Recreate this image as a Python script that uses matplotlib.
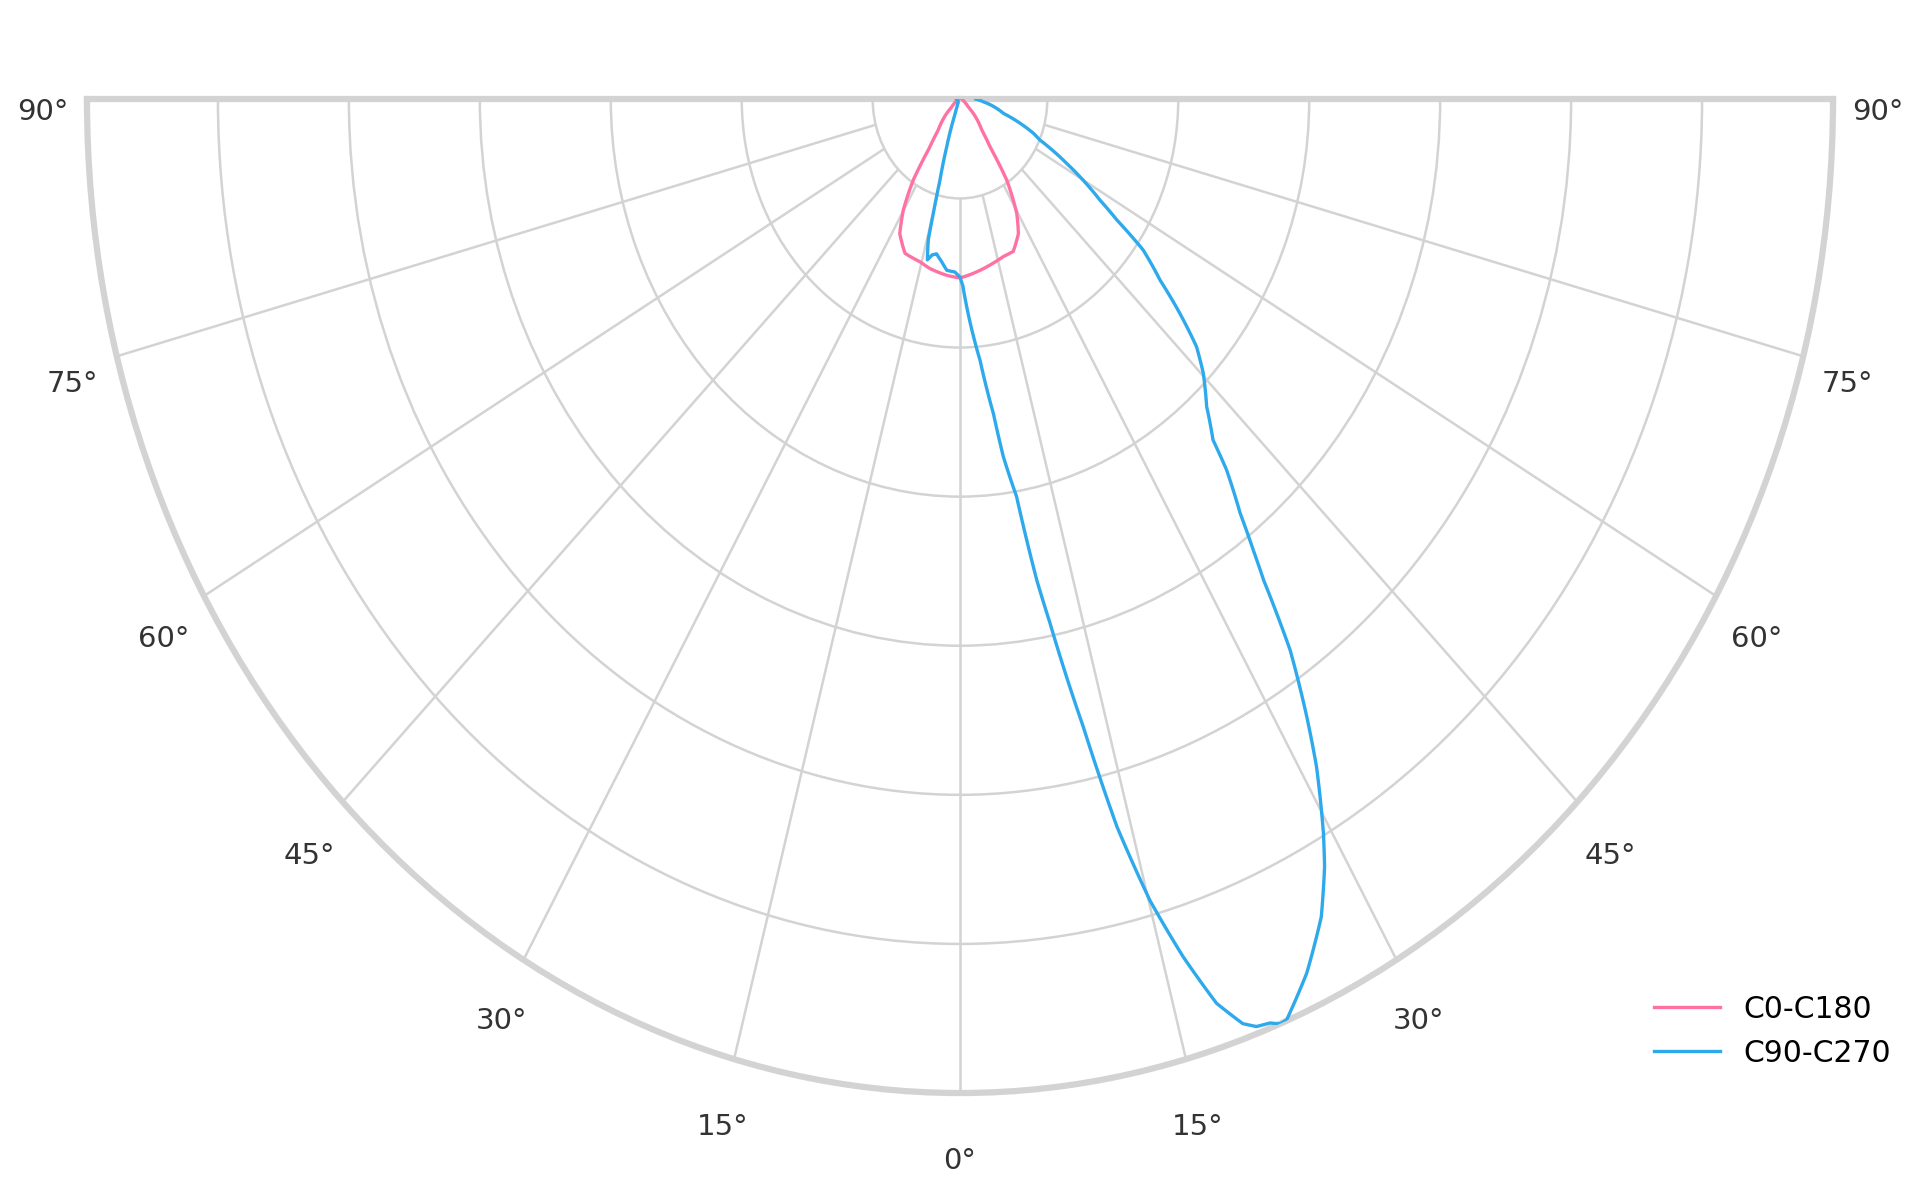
import numpy as np
import matplotlib
matplotlib.use("Agg")
import matplotlib.pyplot as plt

# C0-C180 curve: angle (deg, negative = left side) and relative intensity
c0_ang = [-90, -75, -60, -50, -46.6, -38.6, -35.6, -33.3, -30.2, -27.0, -22.1, -15.6,
          -11.4, -4.9, 0, 5.0, 11.6, 17.4, 21.7, 26.3, 29.5, 33.3, 35.6, 38.6, 46.6,
          50, 60, 75, 90]
c0_val = [0.2, 0.3, 0.6, 1.2, 2.1, 4.0, 5.9, 9.75, 12.9, 15.2, 16.75, 17.0,
          17.4, 17.8, 18.0, 17.6, 17.05, 16.6, 16.5, 15.1, 13.2, 9.75, 5.9, 4.0, 2.1,
          1.2, 0.6, 0.3, 0.2]

# C90-C270 curve
c90_ang = [-90, -75, -60, -45, -30, -24, -21, -19.9, -17.6, -15.7, -14.9, -14.4, -13.0,
           -11.5, -9.8, -7.3, -5.0, -2.0, 0, 1.0, 2.1, 5.0, 6.9, 7.85, 9.2, 10.3, 11.06,
           12.6, 13.8, 15.1, 16.5, 17.9, 19.2, 20.0, 20.9, 21.5, 22.0, 24.3, 26.7, 28.4,
           29.4, 31.3, 32.6, 34.3, 35.7, 36.5, 37.6, 39.3, 40.2, 42.4, 45.3, 47.4, 49.4,
           51.5, 54.1, 55.9, 57.6, 62.1, 65.8, 67.7, 73.8, 77.4, 84, 90]
c90_val = [0.4, 0.3, 0.3, 0.3, 0.4, 0.8, 1.5, 2.3, 5.0, 8.5, 11.9, 14.6, 16.6,
           16.0, 15.8, 16.5, 17.3, 17.4, 17.9, 18.8, 20.9, 26.4, 31.9, 36.3, 40.5, 49.2, 53.7,
           64.7, 75.4, 83.5, 90.0, 95.6, 98.5, 99.3, 99.5, 100.0, 99.9, 96.5, 92.1, 87.8,
           84.8, 78.6, 73.7, 67.1, 59.6, 56.5, 52.6, 48.2, 44.9, 41.9, 39.2, 36.8, 33.2,
           29.3, 25.9, 21.7, 19.0, 13.8, 10.0, 9.1, 5.2, 4.3, 2.7, 1.8]

r_max = 100
r_ticks = [10, 25, 40, 55, 70, 85]
theta_ticks = [-90, -75, -60, -45, -30, -15, 0, 15, 30, 45, 60, 75, 90]
# label offset from the rim (points): sideways, vertical
label_off = {0: (0, -49), 15: (8.5, -49), 30: (16, -44), 45: (24, -39),
             60: (29, -31), 75: (32, -20), 90: (32, -9)}

fig = plt.figure(figsize=(19.2, 11.77), dpi=100)
# half wedge sits in the middle half of the axes box, so the box is twice as tall
ax = fig.add_axes([0.0453, -0.3509, 0.9094, 1.689], projection="polar")
ax.set_theta_zero_location("S")
ax.set_thetamin(-90)
ax.set_thetamax(90)
ax.set_aspect("auto")

l1, = ax.plot(np.deg2rad(c0_ang), c0_val, color="#ff71a4", lw=2.4, label="C0-C180", zorder=3)
l2, = ax.plot(np.deg2rad(c90_ang), c90_val, color="#2ea9ec", lw=2.4, label="C90-C270", zorder=3)
for ln in (l1, l2):
    ln.get_path()._interpolation_steps = 20

ax.set_ylim(0, r_max)
ax.set_yticks(r_ticks)
ax.set_yticklabels([])
ax.yaxis.grid(True, color="#d3d3d3", lw=1.8)
ax.set_xticks([])
ax.xaxis.grid(False)
# spokes start at the first ring
ax.vlines(np.deg2rad(theta_ticks), r_ticks[0], r_max, color="#d3d3d3", lw=1.8, zorder=1)

for t in theta_ticks:
    dx, dy = label_off[abs(t)]
    ax.annotate(f"{abs(t)}°", xy=(np.deg2rad(t), r_max), xytext=(np.sign(t) * dx, dy),
                textcoords="offset points", ha="center", va="center",
                fontsize=21, color="#333333", annotation_clip=False)

for s in ax.spines.values():
    s.set_color("#d3d3d3")
    s.set_linewidth(4.5)

fig.legend(loc="lower right", bbox_to_anchor=(0.999, 0.07), frameon=False,
           fontsize=21.5, handlelength=2.2, labelspacing=0.5)

fig.savefig("out.png", dpi=100, facecolor="white")
